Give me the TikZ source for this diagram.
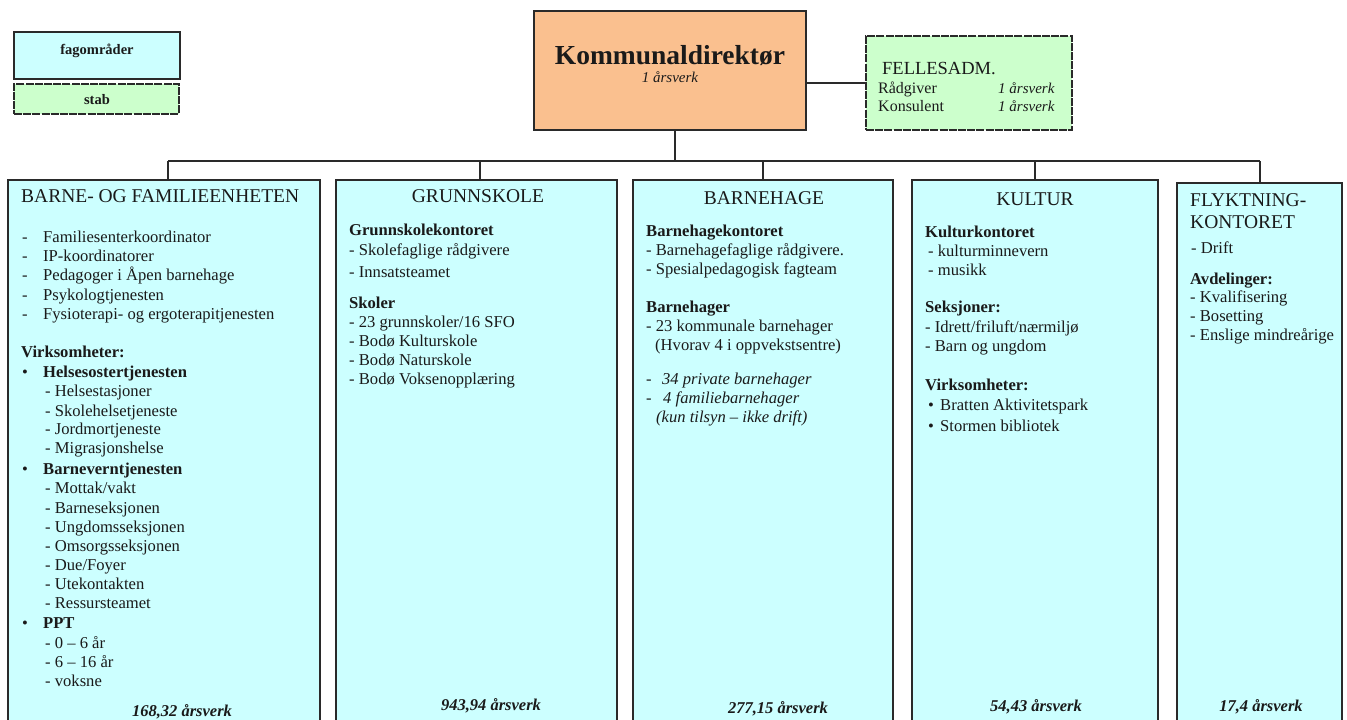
\documentclass[tikz,border=0pt]{standalone}
\usepackage{fontspec}
\setmainfont{Liberation Serif}
\definecolor{cyanf}{HTML}{CCFFFF}
\definecolor{greenf}{HTML}{CCFFCC}
\definecolor{orangef}{HTML}{FAC08F}
\definecolor{linec}{HTML}{2A2A2A}
\definecolor{textc}{HTML}{1A1A1A}
\begin{document}
\begin{tikzpicture}[x=1pt,y=-1pt,
  box/.style={draw=linec, line width=1.1pt, fill=cyanf, inner sep=0pt, outer sep=0pt, anchor=north west},
  stabbox/.style={box, fill=greenf, dash pattern=on 8pt off 1.2pt},
  kdbox/.style={box, fill=orangef},
  conn/.style={draw=linec, line width=1.1pt},
  t/.style={anchor=mid west, inner sep=0pt, yshift=-3.5pt, text=textc, font=\fontsize{16.6}{19}\selectfont},
  tb/.style={t, font=\fontsize{16.6}{19}\selectfont\bfseries},
  ti/.style={t, font=\fontsize{16.6}{19}\selectfont\itshape},
  hd/.style={anchor=mid, inner sep=0pt, yshift=-4.5pt, text=textc, font=\fontsize{19.5}{22}\selectfont},
  hdl/.style={hd, anchor=mid west},
  tot/.style={anchor=mid, inner sep=0pt, yshift=-3.5pt, text=textc, font=\fontsize{16.5}{19}\selectfont\bfseries\itshape},
  leg/.style={anchor=mid, inner sep=0pt, yshift=-3pt, text=textc, font=\fontsize{14.5}{17}\selectfont\bfseries},
  small/.style={anchor=mid west, inner sep=0pt, yshift=-3pt, text=textc, font=\fontsize{16}{18}\selectfont},
  smalli/.style={small, font=\fontsize{15}{17}\selectfont\itshape}]
\useasboundingbox (0,0) rectangle (1347,720);
\clip (0,0) rectangle (1347,720);

% legend
\node[box, minimum width=166, minimum height=47] (leg1) at (14,32) {};
\node[stabbox, minimum width=165, minimum height=30] (leg2) at (14,84) {};
\node[leg] (legt1) at (97,49) {fagområder};
\node[leg] (legt2) at (97,99) {stab};

% top boxes
\node[kdbox, minimum width=272, minimum height=119] (kd) at (534,11) {};
\node[anchor=mid, inner sep=0pt, yshift=-7pt, text=textc, font=\fontsize{27.5}{30}\selectfont\bfseries] (kdt) at (670,55) {Kommunaldirektør};
\node[anchor=mid, inner sep=0pt, yshift=-3pt, text=textc, font=\fontsize{15}{17}\selectfont\itshape] (kda) at (670,77) {1 årsverk};

\node[stabbox, minimum width=206, minimum height=94] (fell) at (866,36) {};
\node[anchor=mid west, inner sep=0pt, yshift=-4pt, text=textc, font=\fontsize{18.5}{21}\selectfont] (fellt) at (882,68) {FELLESADM.};
\node[small] (fr1) at (878,88) {Rådgiver};
\node[small] (fr2) at (878,106) {Konsulent};
\node[smalli] (fa1) at (998,88) {1 årsverk};
\node[smalli] (fa2) at (998,106) {1 årsverk};

% department boxes
\node[box, minimum width=312, minimum height=560] (barne) at (8,180) {};
\node[box, minimum width=281, minimum height=560] (grunn) at (336,180) {};
\node[box, minimum width=260, minimum height=560] (bhg) at (633,180) {};
\node[box, minimum width=246, minimum height=560] (kult) at (912,180) {};
\node[box, minimum width=165, minimum height=557] (flykt) at (1177,183) {};

% connectors
\coordinate (hub) at (675,161);
\coordinate (busL) at (168,161);
\coordinate (busR) at (1260,161);
\coordinate (tg) at (480,161);
\draw[conn] (kd.south -| hub) -- (hub);
\draw[conn] (kd.east |- fell.west) -- (fell.west);
\draw[conn] (busL) -- (busR);
\draw[conn] (busL) -- (busL |- barne.north);
\draw[conn] (tg) -- (tg |- grunn.north);
\draw[conn] (bhg.north |- hub) -- (bhg.north);
\draw[conn] (kult.north |- hub) -- (kult.north);
\draw[conn] (busR) -- (busR |- flykt.north);

% BARNE- OG FAMILIEENHETEN
\node[hdl] (bh) at (21,196) {BARNE- OG FAMILIEENHETEN};
\node[t] (b1) at (22,237) {\makebox[21pt][l]{-}Familiesenterkoordinator};
\node[t] (b2) at (22,256) {\makebox[21pt][l]{-}IP-koordinatorer};
\node[t] (b3) at (22,275) {\makebox[21pt][l]{-}Pedagoger i Åpen barnehage};
\node[t] (b4) at (22,295) {\makebox[21pt][l]{-}Psykologtjenesten};
\node[t] (b5) at (22,314) {\makebox[21pt][l]{-}Fysioterapi- og ergoterapitjenesten};
\node[tb] (b6) at (21,352) {Virksomheter:};
\node[t] (b7) at (22,372) {\makebox[21pt][l]{•}\textbf{Helsesostertjenesten}};
\node[t] (b8) at (45,391) {- Helsestasjoner};
\node[t] (b9) at (45,411) {- Skolehelsetjeneste};
\node[t] (b10) at (45,429) {- Jordmortjeneste};
\node[t] (b11) at (45,448) {- Migrasjonshelse};
\node[t] (b12) at (22,469) {\makebox[21pt][l]{•}\textbf{Barneverntjenesten}};
\node[t] (b13) at (45,488) {- Mottak/vakt};
\node[t] (b14) at (45,508) {- Barneseksjonen};
\node[t] (b15) at (45,527) {- Ungdomsseksjonen};
\node[t] (b16) at (45,546) {- Omsorgsseksjonen};
\node[t] (b17) at (45,565) {- Due/Foyer};
\node[t] (b18) at (45,584) {- Utekontakten};
\node[t] (b19) at (45,603) {- Ressursteamet};
\node[t] (b20) at (22,623) {\makebox[21pt][l]{•}\textbf{PPT}};
\node[t] (b21) at (45,643) {- 0 – 6 år};
\node[t] (b22) at (45,662) {- 6 – 16 år};
\node[t] (b23) at (45,681) {- voksne};
\node[tot] (btot) at (182,711) {168,32 årsverk};

% GRUNNSKOLE
\node[hd] (gh) at (478,196) {GRUNNSKOLE};
\node[tb] (g1) at (349,230) {Grunnskolekontoret};
\node[t] (g2) at (349,250) {- Skolefaglige rådgivere};
\node[t] (g3) at (349,272) {- Innsatsteamet};
\node[tb] (g4) at (349,303) {Skoler};
\node[t] (g5) at (349,322) {- 23 grunnskoler/16 SFO};
\node[t] (g6) at (349,341) {- Bodø Kulturskole};
\node[t] (g7) at (349,360) {- Bodø Naturskole};
\node[t] (g8) at (349,379) {- Bodø Voksenopplæring};
\node[tot] (gtot) at (491,705) {943,94 årsverk};

% BARNEHAGE
\node[hd] (hh) at (764,198) {BARNEHAGE};
\node[tb] (h1) at (646,231) {Barnehagekontoret};
\node[t] (h2) at (646,250) {- Barnehagefaglige rådgivere.};
\node[t] (h3) at (646,269) {- Spesialpedagogisk fagteam};
\node[tb] (h4) at (646,307) {Barnehager};
\node[t] (h5) at (646,326) {- 23 kommunale barnehager};
\node[t] (h6) at (655,345) {(Hvorav 4 i oppvekstsentre)};
\node[ti] (h7) at (646,379) {\makebox[16pt][l]{-}34 private barnehager};
\node[ti] (h8) at (646,398) {\makebox[17pt][l]{-}4 familiebarnehager};
\node[ti] (h9) at (656,417) {(kun tilsyn – ikke drift)};
\node[tot] (htot) at (778,708) {277,15 årsverk};

% KULTUR
\node[hd] (kh) at (1035,199) {KULTUR};
\node[tb] (k1) at (925,232) {Kulturkontoret};
\node[t] (k2) at (928,251) {- kulturminnevern};
\node[t] (k3) at (928,270) {- musikk};
\node[tb] (k4) at (925,307) {Seksjoner:};
\node[t] (k5) at (925,327) {- Idrett/friluft/nærmiljø};
\node[t] (k6) at (925,346) {- Barn og ungdom};
\node[tb] (k7) at (925,385) {Virksomheter:};
\node[t] (k8) at (928,405) {\makebox[12pt][l]{•}Bratten Aktivitetspark};
\node[t] (k9) at (928,426) {\makebox[12pt][l]{•}Stormen bibliotek};
\node[tot] (ktot) at (1036,706) {54,43 årsverk};

% FLYKTNINGKONTORET
\node[hdl] (fh1) at (1190,200) {FLYKTNING-};
\node[hdl] (fh2) at (1190,222) {KONTORET};
\node[t] (f1) at (1191,248) {- Drift};
\node[tb] (f2) at (1190,279) {Avdelinger:};
\node[t] (f3) at (1190,297) {- Kvalifisering};
\node[t] (f4) at (1190,316) {- Bosetting};
\node[t] (f5) at (1190,335) {- Enslige mindreårige};
\node[tot] (ftot) at (1261,706) {17,4 årsverk};
\end{tikzpicture}
\end{document}
